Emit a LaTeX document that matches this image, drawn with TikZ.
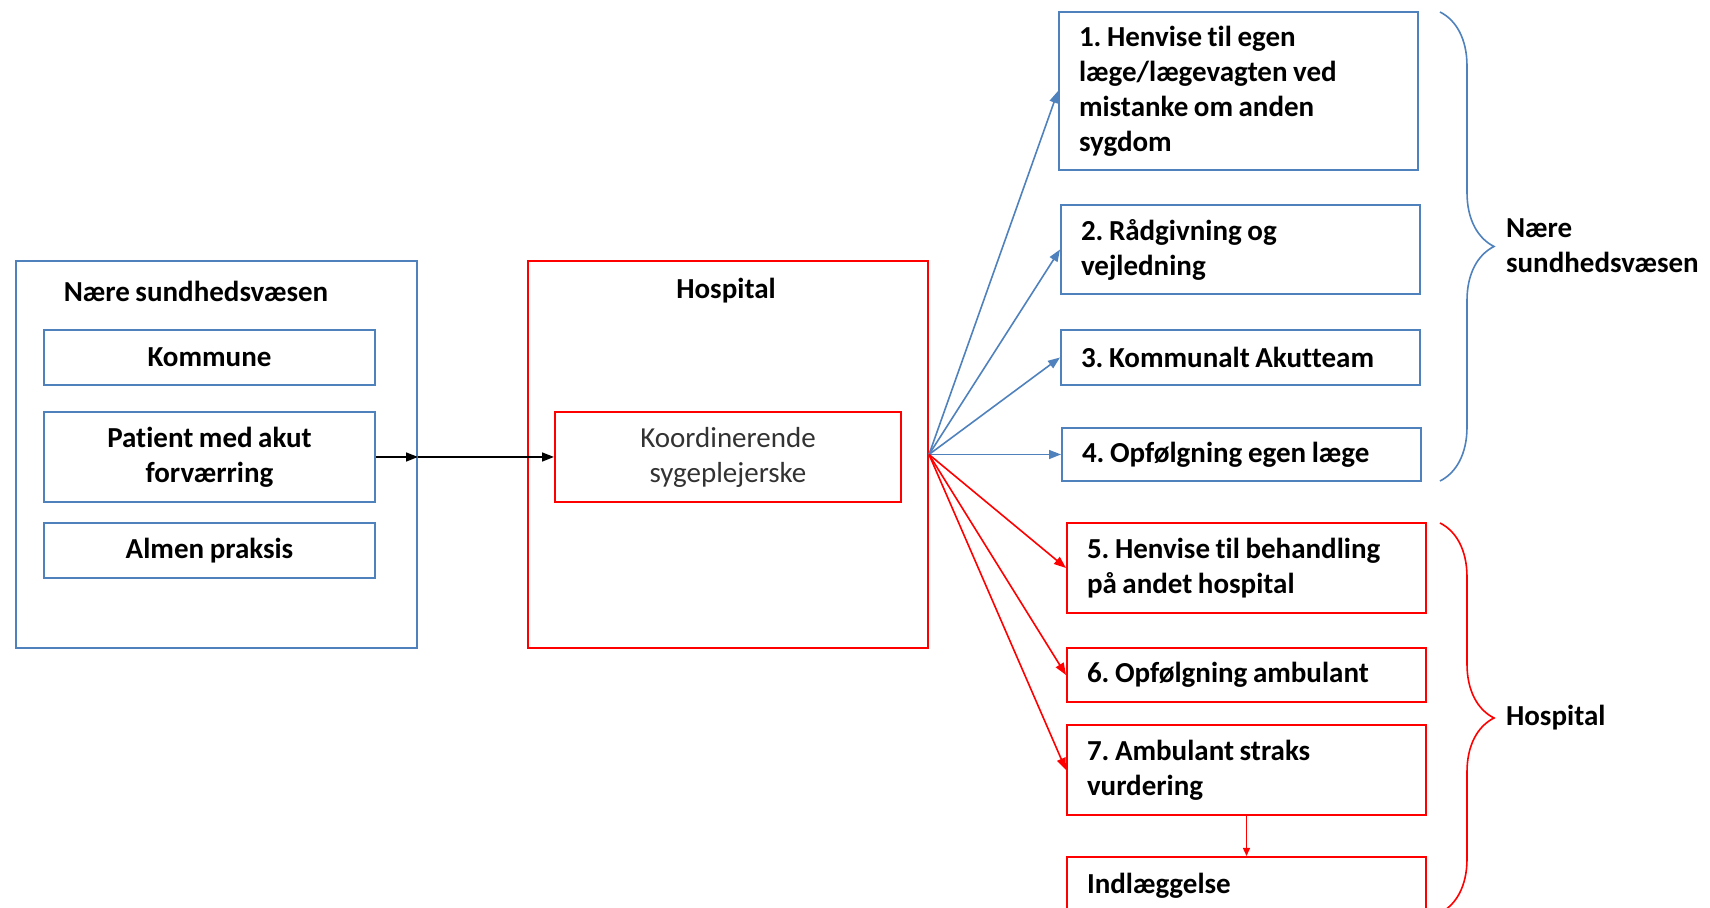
\documentclass[tikz,border=0pt]{standalone}
\usepackage{fontspec}
\setmainfont{Carlito}[WordSpace=0.85, RawFeature={-liga}]
\usepackage{xcolor}
\usepackage{tikz}
\usetikzlibrary{arrows.meta,decorations.pathreplacing}

\definecolor{nearblue}{RGB}{79,129,189}
\definecolor{hospred}{RGB}{255,0,0}
\definecolor{koordgray}{RGB}{50,50,50}

\tikzset{
  boxfont/.style={font=\bfseries\fontsize{14.5}{17.5}\selectfont},
  frame/.style={draw, line width=1pt, inner sep=0pt},
  unitbox/.style={frame, boxfont, align=center, minimum width=165.5pt},
  optbox/.style={frame, boxfont, anchor=west, align=flush left,
    inner xsep=10pt, text width=159.5pt},
  arr/.style={-{Triangle[length=6pt,width=4.5pt]}, line width=0.8pt},
  bracket/.style={decorate, decoration={brace, amplitude=27pt}, line width=0.8pt},
}

\begin{document}
\frenchspacing
\begin{tikzpicture}[x=0.5pt, y=-0.5pt]
  \useasboundingbox (0,0) rectangle (1710,908);
  \clip (0,0) rectangle (1710,908);
  % Define nodes
  \node[frame, nearblue, minimum width=200.5pt, minimum height=193.5pt] (near) at (216.5,454.5) {};
  \node[boxfont] (neartitle) at (196,291) {Nære sundhedsvæsen};
  \node[unitbox, nearblue, minimum height=27.5pt, text=black] (kommune) at (209.5,357.5) {Kommune};
  \node[unitbox, nearblue, minimum height=45pt, text=black] (patient) at (209.5,457) {Patient med akut\\forværring};
  \node[unitbox, nearblue, minimum height=27.5pt, text=black] (almen) at (209.5,550.5) {Almen praksis};

  \node[frame, hospred, minimum width=200pt, minimum height=193.5pt] (hosp) at (728,454.5) {};
  \node[boxfont] (hosptitle) at (726,291) {Hospital};
  \node[frame, hospred, minimum width=173pt, minimum height=45pt, align=center,
    text=koordgray, font=\fontsize{14.5}{17.5}\selectfont] (koord) at (728,457) {Koordinerende\\sygeplejerske};

  % Choices in the nearby health service
  \node[optbox, nearblue, minimum height=79pt, text=black] (opt1) at (1058,91)
    {1. Henvise til egen\\læge/lægevagten ved\\mistanke om anden\\sygdom};
  \node[optbox, nearblue, minimum height=44.5pt, text=black] (opt2) at (1060,249.5)
    {2. Rådgivning og\\vejledning};
  \node[optbox, nearblue, minimum height=27.5pt, text=black] (opt3) at (1060,357.5)
    {3. Kommunalt Akutteam};
  \node[optbox, nearblue, minimum height=26.5pt, text=black] (opt4) at (1061,454.5)
    {4. Opfølgning egen læge};

  % Choices at the hospital
  \node[optbox, hospred, minimum height=45pt, text=black] (opt5) at (1066,568)
    {5. Henvise til behandling\\på andet hospital};
  \node[optbox, hospred, minimum height=27pt, text=black] (opt6) at (1066,675)
    {6. Opfølgning ambulant};
  \node[optbox, hospred, minimum height=45pt, text=black] (opt7) at (1066,770)
    {7. Ambulant straks\\vurdering};
  \node[optbox, hospred, minimum height=29pt, text=black] (indl) at (1066,886)
    {Indlæggelse};

  % Edges
  \coordinate (gate) at (patient.east -| near.east);
  \draw[arr] (patient.east) -- (gate);
  \draw[arr] (gate) -- (koord.west);
  \foreach \t in {opt1,opt2,opt3,opt4}
    \draw[arr, nearblue] (hosp.east) -- (\t.west);
  \foreach \t in {opt5,opt6,opt7}
    \draw[arr, hospred] (hosp.east) -- (\t.west);
  \draw[-{Triangle[length=4pt,width=3.5pt]}, line width=0.7pt, hospred] (opt7.south) -- (indl.north);

  % Braces and their labels
  \draw[bracket, nearblue] (1440,12) -- (1440,481);
  \draw[bracket, hospred] (1440,523) -- (1440,913);
  \node[boxfont, anchor=west, align=left] (nearlabel) at (1499,246) {Nære\\sundhedsvæsen};
  \node[boxfont, anchor=west] (hosplabel) at (1499,718) {Hospital};
\end{tikzpicture}
\end{document}
